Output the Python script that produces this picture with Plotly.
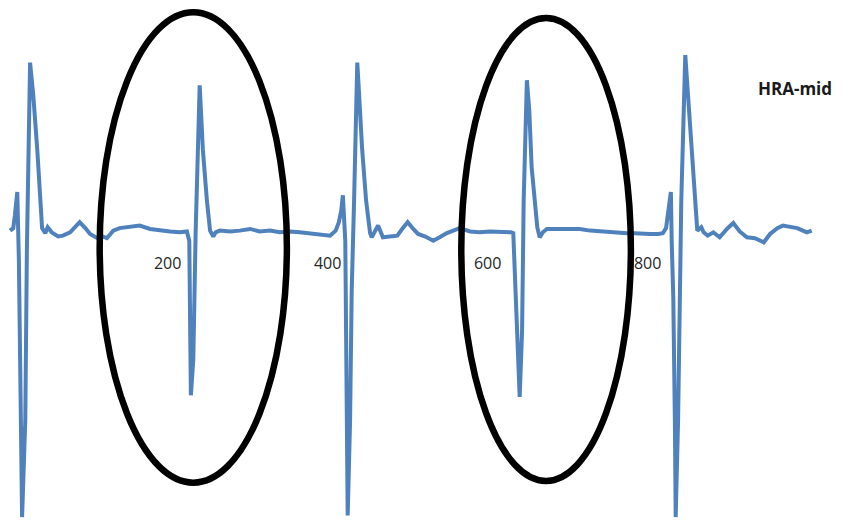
"""HRA-mid electrogram trace with two circled beats."""
import plotly.graph_objects as go

# sample index (time) and amplitude of the HRA-mid trace
sample = [
    3, 7, 9, 12, 14, 18, 22, 24, 28, 32, 37, 43, 47, 50, 55, 63, 69, 78, 85, 90,
    97, 103, 112, 119, 124, 132, 140, 153, 165, 178, 190, 203, 215, 224,
    227, 229, 232, 235, 240, 244, 249, 253, 257, 260, 265, 278, 290, 303, 315,
    328, 340, 353, 365, 378, 390, 403, 410, 414, 417, 419,
    422, 424, 425, 428, 430, 433, 437, 439, 443, 448, 453, 455, 459, 463, 469,
    478, 487, 494, 500, 507, 513, 522, 532, 540, 549, 557, 565, 578, 590, 603,
    615, 629,
    632, 635, 638, 640, 643, 645, 649, 652, 655, 659, 662, 665, 669, 674, 684,
    703, 715, 728, 740, 753, 765, 774, 784, 794, 803, 813, 819, 823, 825, 829,
    830, 832, 834, 835, 838, 842, 847, 850, 855, 859, 862, 867, 870, 875, 882,
    890, 899, 907, 915, 924, 934, 943, 945, 953, 962, 969, 978, 987, 994, 999,
    1005,
]
amplitude = [
    0.02, 0.05, 0.20, 0.48, -0.33, -3.39, -2.24, -0.21, 2.02, 1.63, 0.98, 0.05,
    -0.01, 0.06, 0.00, -0.05, -0.04, 0.00, 0.07, 0.12, 0.05, -0.02, -0.07,
    -0.05, -0.07, 0.02, 0.05, 0.06, 0.08, 0.04, 0.02, 0.01, 0.00, 0.01,
    -0.10, -1.94, -1.52, 0.02, 1.75, 0.98, 0.38, 0.02, -0.05, 0.00, 0.02, 0.01,
    0.02, 0.04, 0.01, 0.02, 0.00, 0.01, 0.00, -0.01, -0.02, -0.04, 0.02, 0.12,
    0.26, 0.44,
    -0.10, -2.00, -3.37, -2.24, -0.71, 0.38, 2.02, 1.69, 1.00, 0.38, -0.01,
    -0.06, 0.02, 0.08, -0.06, -0.05, -0.04, 0.05, 0.12, 0.04, -0.02, -0.05,
    -0.10, -0.06, -0.01, 0.02, 0.05, 0.01, 0.00, 0.01, 0.01, 0.00,
    -0.01, -0.81, -1.29, -1.96, -1.17, 0.38, 1.81, 1.45, 0.77, 0.32, 0.06,
    -0.06, 0.00, 0.04, 0.04, 0.05, 0.04, 0.02, 0.01, 0.00, 0.00, -0.01, -0.01,
    -0.02, -0.02, -0.02, -0.01, 0.05, 0.20, 0.48,
    -0.10, -0.77, -2.24, -3.39, -2.24, 0.38, 2.11, 1.69, 0.98, 0.38, 0.02,
    0.06, 0.00, -0.04, 0.00, -0.06, 0.04, 0.11, 0.01, -0.06, -0.07, -0.11,
    -0.12, -0.02, 0.05, 0.08, 0.06, 0.05, 0.02, 0.00, 0.02,
]
tick_values = [200, 400, 600, 800]
tick_labels = ["200", "400", "600", "800"]
title_text = "HRA-mid"

# circled beats: (x0, x1, y0, y1) in data units
circled = [(115, 349, -2.98, 2.62), (567, 779, -2.96, 2.55)]


def trace_figure() -> go.Figure:
    fig = go.Figure()
    fig.add_trace(go.Scatter(
        x=sample, y=amplitude, mode="lines", name=title_text,
        line=dict(color="#4F81BD", width=4),
        showlegend=False,
    ))
    for x0, x1, y0, y1 in circled:
        fig.add_shape(
            type="circle", xref="x", yref="y",
            x0=x0, x1=x1, y0=y0, y1=y1,
            line=dict(color="black", width=6.5),
        )
    fig.add_annotation(
        text=f"<b>{title_text}</b>", xref="paper", yref="paper",
        x=0.915, y=0.846, xanchor="center", yanchor="middle",
        showarrow=False,
        font=dict(family="Open Sans", size=17, color="#1a1a1a"),
    )
    fig.update_layout(
        width=860, height=520,
        margin=dict(l=0, r=0, t=0, b=0),
        paper_bgcolor="white", plot_bgcolor="white",
        font=dict(family="Open Sans", size=16, color="#262626"),
    )
    fig.update_xaxes(
        range=[0.4, 1075.4], tickvals=tick_values, ticktext=tick_labels,
        showgrid=False, zeroline=False, showline=False, ticks="",
        anchor="free", position=0.53,
    )
    fig.update_yaxes(
        range=[-3.52, 2.67], showgrid=False, zeroline=False,
        showline=False, showticklabels=False, ticks="",
    )
    return fig


fig = trace_figure()
fig.write_html("out.html")
